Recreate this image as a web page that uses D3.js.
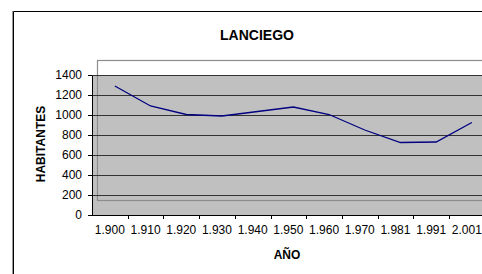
<!DOCTYPE html>
<html>
<head>
<meta charset="utf-8">
<script src="https://cdn.jsdelivr.net/npm/d3@7"></script>
<style>
  body { margin: 0; background: #fff; }
  svg { display: block; font-family: Arial, "Liberation Sans", sans-serif; }
  .axis path, .axis line { stroke: #000; shape-rendering: crispEdges; }
  .axis text { font-size: 12px; fill: #000; }
</style>
</head>
<body>
<svg id="chart"></svg>
<script>
// categories (years, as printed)
const years = ['1.900', '1.910', '1.920', '1.930', '1.940', '1.950', '1.960', '1.970', '1.981', '1.991', '2.001'];
// population
const habitantes = [1290, 1090, 1005, 990, 1035, 1080, 1005, 850, 725, 730, 925];
// y ticks
const yTicks = [0, 200, 400, 600, 800, 1000, 1200, 1400];

const width = 482;
const height = 274;

const svg = d3.select('#chart')
  .attr('width', width)
  .attr('height', height);

// plot area
const plotLeft = 92;
const plotTop = 75;
const plotBottom = 215;
const step = 35.7;
const depthX = 5;   // back wall offset (excel pseudo 3d)
const depthY = 15;

const x = d3.scaleBand()
  .domain(years)
  .range([plotLeft, plotLeft + step * years.length]);

const y = d3.scaleLinear()
  .domain([0, 1400])
  .range([plotBottom, plotTop]);

// outer chart border
svg.append('line')
  .attr('x1', 12.5).attr('x2', 12.5)
  .attr('y1', 11).attr('y2', height)
  .attr('stroke', '#999');
svg.append('path')
  .attr('d', `M13.5,${height} V11.5 H${width}`)
  .attr('fill', 'none')
  .attr('stroke', '#000');

// grey plot background
svg.append('rect')
  .attr('x', plotLeft)
  .attr('y', plotTop)
  .attr('width', step * years.length)
  .attr('height', plotBottom - plotTop)
  .attr('fill', '#c0c0c0');

// back wall frame
svg.append('rect')
  .attr('x', plotLeft + depthX + 0.5)
  .attr('y', plotTop - depthY + 0.5)
  .attr('width', step * years.length)
  .attr('height', plotBottom - plotTop)
  .attr('fill', 'none')
  .attr('stroke', '#8c8c8c')
  .attr('stroke-width', 1.2);

// gridlines
svg.append('g')
  .selectAll('line')
  .data(yTicks.slice(1))
  .join('line')
  .attr('x1', plotLeft)
  .attr('x2', width)
  .attr('y1', d => Math.round(y(d)) + 0.5)
  .attr('y2', d => Math.round(y(d)) + 0.5)
  .attr('stroke', '#333')
  .attr('stroke-width', 1.2);

// y axis
const yAxis = d3.axisLeft(y)
  .tickValues(yTicks)
  .tickFormat(d3.format('d'))
  .tickSize(4)
  .tickSizeOuter(0)
  .tickPadding(6);

svg.append('g')
  .attr('class', 'axis')
  .attr('transform', `translate(${plotLeft},0)`)
  .call(yAxis);

// x axis (labels centred in categories, tick marks on the boundaries)
const xAxis = d3.axisBottom(x)
  .tickSize(0)
  .tickSizeOuter(0)
  .tickPadding(10);

const gx = svg.append('g')
  .attr('class', 'axis')
  .attr('transform', `translate(0,${plotBottom})`)
  .call(xAxis);

gx.selectAll('.tickmark')
  .data(years.slice(1))
  .join('line')
  .attr('class', 'tickmark')
  .attr('x1', d => Math.round(x(d)) + 0.5)
  .attr('x2', d => Math.round(x(d)) + 0.5)
  .attr('y1', 0)
  .attr('y2', 4);

// the line
const valueline = d3.line()
  .x((d, i) => x(years[i]) + x.bandwidth() / 2 + depthX)
  .y(d => y(d));

svg.append('path')
  .datum(habitantes)
  .attr('fill', 'none')
  .attr('stroke', '#000080')
  .attr('stroke-width', 1.3)
  .attr('d', valueline);

// titles
svg.append('text')
  .attr('x', 257)
  .attr('y', 40)
  .attr('text-anchor', 'middle')
  .style('font-size', '14px')
  .style('font-weight', 'bold')
  .text('LANCIEGO');

svg.append('text')
  .attr('x', 287)
  .attr('y', 259)
  .attr('text-anchor', 'middle')
  .style('font-size', '12px')
  .style('font-weight', 'bold')
  .text('AÑO');

svg.append('text')
  .attr('transform', 'translate(45,144) rotate(-90)')
  .attr('text-anchor', 'middle')
  .style('font-size', '12px')
  .style('font-weight', 'bold')
  .text('HABITANTES');
</script>
</body>
</html>
